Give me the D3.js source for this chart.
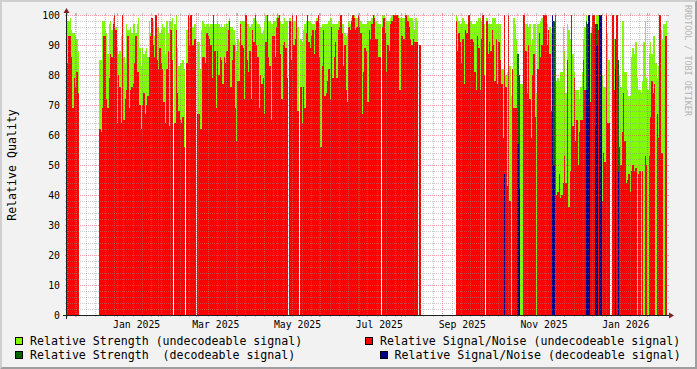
<!DOCTYPE html>
<html><head><meta charset="utf-8">
<script src="https://cdn.jsdelivr.net/npm/d3@7"></script>
<style>
html,body{margin:0;padding:0;background:#f2f2f2;}
svg{display:block;}
text{font-family:"DejaVu Sans Mono",monospace;white-space:pre;}
</style></head><body>
<svg id="c" width="697" height="369"></svg>
<script>
// ---------- DATA ----------
const START = "2024-11-25T00:00:00Z";   // first daily column
const END   = "2026-02-15T18:00:00Z";   // right edge of the time axis

// Relative Strength (undecodeable signal), one value per day, null = no data
const strength = [
/*  0*/ 98,98,99,95,94,94,93,92,88,null,
/* 10*/ null,null,null,null,null,null,null,null,null,null,
/* 20*/ null,null,null,null,85,85,98,98,95,94,
/* 30*/ 87,97,98,95,99,100,96,89,87,88,
/* 40*/ 93,100,86,84,97,95,95,96,94,97,
/* 50*/ 97,94,97,99,89,83,89,87,88,89,
/* 60*/ 86,98,94,99,98,93,100,96,96,94,
/* 70*/ 95,97,96,87,98,94,98,98,99,null,
/* 80*/ 97,100,89,83,84,84,85,82,null,95,
/* 90*/ 100,99,100,96,96,97,null,91,91,82,
/*100*/ 95,98,97,96,97,97,96,97,97,100,
/*110*/ 97,97,98,97,96,97,96,97,96,97,
/*120*/ 98,99,96,96,95,91,88,92,91,98,
/*130*/ 98,98,98,100,97,97,96,97,97,99,
/*140*/ 100,98,97,97,96,94,95,98,100,100,
/*150*/ 98,98,97,97,98,98,99,100,100,98,
/*160*/ 97,97,99,98,98,null,99,98,100,98,
/*170*/ 98,100,96,null,92,91,95,97,98,100,
/*180*/ 98,98,97,97,97,98,99,100,97,96,
/*190*/ 97,97,97,97,97,98,99,99,97,97,
/*200*/ 97,97,98,98,100,97,97,94,93,94,
/*210*/ 98,97,99,100,100,99,99,100,99,98,
/*220*/ 97,97,97,97,98,98,98,99,100,100,
/*230*/ 98,97,97,97,null,100,100,99,98,98,
/*240*/ 98,99,100,100,100,100,100,100,99,99,
/*250*/ 99,99,100,100,100,99,99,99,98,95,
/*260*/ 99,98,null,90,null,null,null,null,null,null,
/*270*/ null,null,null,null,null,null,null,null,null,null,
/*280*/ null,null,null,null,null,null,null,null,null,null,
/*290*/ 100,99,98,97,97,99,98,97,97,100,
/*300*/ 100,98,97,97,97,98,98,99,99,98,
/*310*/ 100,97,null,99,97,97,97,99,99,99,
/*320*/ 97,97,97,97,82,82,100,80,81,100,
/*330*/ 83,73,82,99,97,92,80,78,77,77,
/*340*/ 100,100,97,97,96,97,90,92,97,97,
/*350*/ 74,97,97,98,99,100,100,100,97,95,
/*360*/ 96,94,null,98,100,78,79,78,81,81,
/*370*/ 96,88,74,97,95,92,100,87,81,75,
/*380*/ 75,75,72,76,81,92,96,100,97,100,
/*390*/ 94,96,100,100,97,100,100,null,null,80,
/*400*/ 76,76,100,94,85,null,null,100,92,92,
/*410*/ 100,80,80,76,98,98,81,81,75,73,
/*420*/ 73,86,89,87,91,79,75,75,74,78,
/*430*/ 91,98,79,75,87,91,87,93,93,84,
/*440*/ 79,83,100,95,92,97,97,98
];

// Relative Signal/Noise (undecodeable signal)
const snr = [
/*  0*/ 84,93,93,86,69,79,76,81,74,null,
/* 10*/ null,null,null,null,null,null,null,null,null,null,
/* 20*/ null,null,null,null,62,61,69,93,93,72,
/* 30*/ 69,79,87,86,97,100,95,64,80,76,
/* 40*/ 64,100,65,72,75,93,69,75,76,77,
/* 50*/ 84,93,81,81,70,62,70,74,67,70,
/* 60*/ 73,86,93,99,90,86,100,85,82,89,
/* 70*/ 84,82,71,64,82,88,63,95,85,null,
/* 80*/ 64,95,74,68,65,64,66,56,null,84,
/* 90*/ 100,90,100,90,90,92,null,67,67,62,
/*100*/ 62,86,86,84,94,93,92,90,79,100,
/*110*/ 88,69,88,80,86,85,77,86,84,88,
/*120*/ 95,98,76,85,90,69,58,78,78,97,
/*130*/ 90,89,72,100,85,81,88,72,95,91,
/*140*/ 100,90,86,69,80,77,79,67,91,100,
/*150*/ 86,83,65,93,93,86,96,99,100,87,
/*160*/ 72,90,91,89,79,null,98,85,100,90,
/*170*/ 92,100,68,null,76,64,76,69,94,100,
/*180*/ 91,89,93,95,87,95,98,100,86,56,
/*190*/ 83,95,73,74,78,82,72,96,79,86,
/*200*/ 91,79,95,96,100,94,83,90,75,71,
/*210*/ 96,95,98,100,99,95,96,100,96,94,
/*220*/ 67,81,89,88,71,95,92,97,100,99,
/*230*/ 92,92,86,86,null,96,99,94,81,90,
/*240*/ 88,97,98,100,100,100,100,99,75,93,
/*250*/ 93,92,100,100,98,96,92,90,92,91,
/*260*/ 91,91,null,90,null,null,null,null,null,null,
/*270*/ null,null,null,null,null,null,null,null,null,null,
/*280*/ null,null,null,null,null,null,null,null,null,null,
/*290*/ 98,88,94,91,84,92,77,95,94,100,
/*300*/ 100,92,92,91,81,75,93,89,75,92,
/*310*/ 100,80,null,98,87,91,88,95,90,78,
/*320*/ 92,77,91,85,77,59,100,76,43,100,
/*330*/ 38,0,82,69,69,69,0,0,0,0,
/*340*/ 100,100,88,74,90,72,59,80,87,66,
/*350*/ 0,82,94,86,90,100,100,100,90,95,
/*360*/ 87,68,null,39,100,40,41,47,39,40,
/*370*/ 44,53,44,85,36,48,100,63,79,58,
/*380*/ 65,50,61,65,65,85,75,75,75,75,
/*390*/ 71,94,100,100,63,95,95,null,null,38,
/*400*/ 54,51,100,64,64,null,null,100,75,82,
/*410*/ 100,56,56,50,61,74,58,44,45,47,
/*420*/ 41,48,50,48,49,0,47,48,0,48,
/*430*/ 0,53,50,0,53,66,78,74,77,0,
/*440*/ 67,59,100,54,54,0,93,93
];

// Decodeable-signal days (index into the daily series) and their values
const decDay      = [326, 336, 337, 362, 363, 387, 388, 389, 394, 395, 397, 398, 409, 411];
const decStrength = [ 47,  87,  80, 100,  98,  98,  97, 100,  97,  97, 100, 100,  92,  85];
const decSnr      = [ 47,  57,  42, 100,  50,  75,  75, 100,  63,  90, 100, 100,  82,  48];

const yTickValues = [0,10,20,30,40,50,60,70,80,90,100];
const xLabelMonths = ["2025-01-01","2025-03-01","2025-05-01","2025-07-01","2025-09-01","2025-11-01","2026-01-01"];

const legendLabels = [
  "Relative Strength (undecodeable signal)",
  "Relative Signal/Noise (undecodeable signal)",
  "Relative Strength  (decodeable signal)",
  "Relative Signal/Noise (decodeable signal)"
];

// ---------- STYLE ----------
const COL = {lime:"#80ff00", red:"#ff0000", dgreen:"#006400", navy:"#00008c"};
const W = 697, H = 369;
const X0 = 67, X1 = 667, YB = 315, YT = 15;

const svg = d3.select("#c");
const x = d3.scaleUtc().domain([new Date(START), new Date(END)]).range([X0, X1]);
const y = d3.scaleLinear().domain([0, 100]).range([YB, YT]);
const dayDate = i => d3.utcDay.offset(new Date(START), i);

// background + shaded frame
svg.append("rect").attr("width", W).attr("height", H).attr("fill", "#f2f2f2");
svg.append("path").attr("d", `M0,${H}L2,${H-2}L2,2L${W-2},2L${W},0L0,0Z`).attr("fill", "#cfcfcf");
svg.append("path").attr("d", `M2,${H-2}L${W-2},${H-2}L${W-2},2L${W},0L${W},${H}L0,${H}Z`).attr("fill", "#9e9e9e");
// canvas
svg.append("rect").attr("x", X0).attr("y", YT).attr("width", X1 - X0).attr("height", YB - YT).attr("fill", "#ffffff");

// ---------- DATA AREAS (stepped, one step per day) ----------
function steps(vals) {
  const pts = [];
  vals.forEach((v, i) => {
    if (v == null) pts.push({t: dayDate(i), v: null});
    else pts.push({t: dayDate(i), v}, {t: dayDate(i + 1), v});
  });
  return pts;
}
const area = d3.area()
  .defined(d => d.v != null)
  .x(d => Math.min(x(d.t), X1))
  .y0(y(0))
  .y1(d => y(d.v));

const decS = strength.map(() => null), decN = strength.map(() => null);
decDay.forEach((d, k) => { decS[d] = decStrength[k]; decN[d] = decSnr[k]; });

const g = svg.append("g").attr("shape-rendering", "crispEdges");
g.append("path").attr("d", area(steps(strength))).attr("fill", COL.lime);
g.append("path").attr("d", area(steps(snr))).attr("fill", COL.red);
g.append("path").attr("d", area(steps(decS))).attr("fill", COL.dgreen);
g.append("path").attr("d", area(steps(decN))).attr("fill", COL.navy);

// ---------- GRID (drawn over data, like rrdtool) ----------
const GRID = "rgba(143,143,143,0.45)", MGRID = "rgba(222,80,80,0.55)";
const grid = svg.append("g").attr("stroke-width", 1).attr("fill", "none");
// horizontal
d3.range(2, 101, 2).forEach(v => {
  const yy = y(v) + 0.5, major = v % 10 === 0, c = major ? MGRID : GRID;
  grid.append("line").attr("x1", X0 - 1).attr("x2", X1 + 1).attr("y1", yy).attr("y2", yy)
    .attr("stroke", c).attr("stroke-dasharray", "1,1");
  grid.append("line").attr("x1", X0 - 2).attr("x2", X0).attr("y1", yy).attr("y2", yy).attr("stroke", c);
  grid.append("line").attr("x1", X1).attr("x2", X1 + 2).attr("y1", yy).attr("y2", yy).attr("stroke", c);
});
// vertical
const dom = x.domain();
const months = d3.utcMonth.range(dom[0], dom[1]);
const monthSet = new Set(months.map(d => +d3.utcDay.floor(d)));
const weeks = d3.utcMonday.range(dom[0], dom[1]).filter(d => !monthSet.has(+d));
function vline(t, c) {
  const xx = Math.round(x(t)) + 0.5;
  grid.append("line").attr("x1", xx).attr("x2", xx).attr("y1", YB + 1).attr("y2", YT - 1)
    .attr("stroke", c).attr("stroke-dasharray", "1,1");
  grid.append("line").attr("x1", xx).attr("x2", xx).attr("y1", YT - 2).attr("y2", YT).attr("stroke", c);
  grid.append("line").attr("x1", xx).attr("x2", xx).attr("y1", YB).attr("y2", YB + 2).attr("stroke", c);
}
weeks.forEach(t => vline(t, GRID));
months.forEach(t => vline(t, MGRID));

// ---------- AXES ----------
const AX = "#1f1f1f", ARROW = "#801f1f";
svg.append("line").attr("x1", X0 - 4).attr("x2", X1 + 4).attr("y1", YB + 0.5).attr("y2", YB + 0.5).attr("stroke", AX);
svg.append("line").attr("x1", X0 - 0.5).attr("x2", X0 - 0.5).attr("y1", YB + 4).attr("y2", YT - 4).attr("stroke", AX);
svg.append("path").attr("d", `M${X1+2},${YB+0.5-3}L${X1+2},${YB+0.5+3}L${X1+7},${YB+0.5}Z`).attr("fill", ARROW);
svg.append("path").attr("d", `M${X0-0.5-3},${YT-2}L${X0-0.5+3},${YT-2}L${X0-0.5},${YT-7}Z`).attr("fill", ARROW);

// y tick labels
svg.append("g").selectAll("text").data(yTickValues).join("text")
  .attr("x", 60).attr("y", d => y(d) + 3.5).attr("text-anchor", "end")
  .attr("font-size", "9.8px").attr("fill", "#000").text(d => String(d));

// x labels (rrdtool centres month labels half a month after the month start)
const fmt = d3.utcFormat("%b %Y");
svg.append("g").selectAll("text").data(xLabelMonths.map(s => new Date(s + "T00:00:00Z"))).join("text")
  .attr("x", d => x(d3.utcDay.offset(d, 15))).attr("y", 328).attr("text-anchor", "middle")
  .attr("font-size", "9.8px").attr("fill", "#000").text(d => fmt(d));

// y axis title
svg.append("text").attr("transform", `translate(16,${(YB + YT) / 2}) rotate(-90)`)
  .attr("text-anchor", "middle").attr("font-size", "11.6px").attr("fill", "#000").text("Relative Quality");

// watermark
svg.append("text").attr("transform", "translate(685,5) rotate(90)")
  .attr("font-size", "8.4px").attr("fill", "#b4b4b4").text("RRDTOOL / TOBI OETIKER");

// ---------- LEGEND ----------
const legendPos = [
  {bx: 15,  tx: 30,    y: 345, c: COL.lime},
  {bx: 365, tx: 380,   y: 345, c: COL.red},
  {bx: 15,  tx: 30,    y: 359, c: COL.dgreen},
  {bx: 380, tx: 394.5, y: 359, c: COL.navy}
];
const lg = svg.append("g");
legendLabels.forEach((lab, i) => {
  const p = legendPos[i];
  lg.append("rect").attr("x", p.bx + 0.5).attr("y", p.y - 7.5).attr("width", 7).attr("height", 7)
    .attr("fill", p.c).attr("stroke", "#000").attr("stroke-width", 1);
  lg.append("text").attr("x", p.tx).attr("y", p.y).attr("font-size", "11.6px").attr("fill", "#000").text(lab);
});
</script>
</body></html>
